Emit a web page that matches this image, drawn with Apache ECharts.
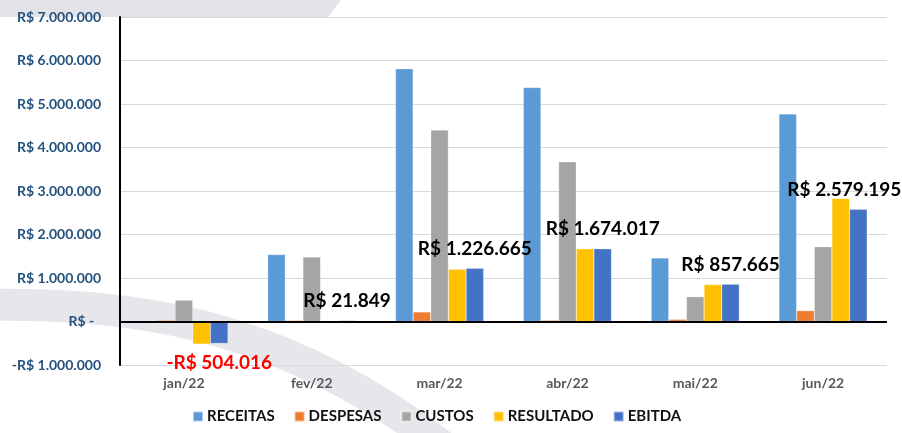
<!DOCTYPE html>
<html>
<head>
<meta charset="utf-8">
<script src="https://cdn.jsdelivr.net/npm/echarts@6/dist/echarts.min.js"></script>
<style>
  html, body { margin: 0; padding: 0; background: #fff; }
  #chart { width: 902px; height: 433px; }
</style>
</head>
<body>
<div id="chart"></div>
<script>
// meses
var meses = ['jan/22', 'fev/22', 'mar/22', 'abr/22', 'mai/22', 'jun/22'];
// valores (R$)
var receitas = [0, 1540000, 5810000, 5380000, 1460000, 4770000];
var despesas = [30000, 25000, 220000, 30000, 50000, 250000];
var custos = [490000, 1480000, 4400000, 3670000, 570000, 1720000];
var resultado = [-520000, 5000, 1200000, 1670000, 850000, 2830000];
var ebitda = [-504016, 21849, 1226665, 1674017, 857665, 2579195];
// eixo y
var yMin = -1000000, yMax = 7000000, yStep = 1000000;

var fonte = 'Lato, "Noto Sans", sans-serif';

// formato R$ 1.000.000
function moeda(v) {
	if (v === 0) return 'R$ -  ';
	var s = Math.abs(Math.round(v)).toString().replace(/\B(?=(\d{3})+(?!\d))/g, '.');
	return (v < 0 ? '-' : '') + 'R$ ' + s;
}

// rotulos do EBITDA
var ebitdaData = ebitda.map(function(v, i) {
	var neg = v < 0;
	return {
		value: v,
		label: {
			position: neg ? 'bottom' : 'top',
			color: neg ? '#ff0000' : '#000',
			offset: i === ebitda.length - 1 ? [-14, 0] : [0, 0]
		}
	};
});

var chart = echarts.init(document.getElementById('chart'));

var serie = function(nome, dados, cor) {
	return {
		name: nome,
		type: 'bar',
		data: dados,
		barGap: '0%',
		barCategoryGap: '31%',
		itemStyle: { color: cor, borderColor: 'rgba(255,255,255,0.5)', borderWidth: 0.5 }
	};
};

var lista = [
	serie('RECEITAS', receitas, '#5b9bd5'),
	serie('DESPESAS', despesas, '#ed7d31'),
	serie('CUSTOS', custos, '#a5a5a5'),
	serie('RESULTADO', resultado, '#ffc000'),
	serie('EBITDA', ebitdaData, '#4472c4')
];
// rotulos e linha do zero
lista[4].label = {
	show: true,
	distance: 10,
	fontFamily: fonte,
	fontWeight: 'bold',
	fontSize: 19,
	formatter: function(p) { return moeda(p.value); }
};
lista[4].markLine = {
	silent: true,
	symbol: 'none',
	label: { show: false },
	lineStyle: { color: '#000', width: 2, type: 'solid' },
	data: [{ yAxis: 0 }]
};

var option = {
	animation: false,
	backgroundColor: '#fff',
	textStyle: { fontFamily: fonte },
	graphic: [{
		type: 'polygon',
		z: -10,
		silent: true,
		shape: { points: [[0, 0], [341, 0], [328, 17], [0, 17]] },
		style: { fill: '#e3e3e7' }
	}, {
		type: 'bezierCurve',
		z: -10,
		silent: true,
		shape: { x1: -10, y1: 305, cpx1: 150, cpy1: 302, cpx2: 300, cpy2: 330, x2: 460, y2: 460 },
		style: { stroke: '#e7e7eb', lineWidth: 32, fill: null }
	}],
	legend: {
		bottom: 4,
		left: 187,
		itemWidth: 10,
		itemHeight: 10,
		itemGap: 19,
		icon: 'rect',
		textStyle: { fontFamily: fonte, fontWeight: 'bold', fontSize: 15, color: '#111', padding: [0, 0, 0, -1] },
		data: ['RECEITAS', 'DESPESAS', 'CUSTOS', 'RESULTADO', 'EBITDA']
	},
	grid: { left: 120, right: 15, top: 17, bottom: 68 },
	xAxis: {
		type: 'category',
		data: meses,
		axisLine: { show: false, onZero: false },
		axisTick: { show: false },
		axisLabel: { margin: 11, fontFamily: fonte, fontWeight: 'bold', fontSize: 14, color: '#595959' }
	},
	yAxis: {
		type: 'value',
		min: yMin,
		max: yMax,
		interval: yStep,
		axisLine: { show: true, lineStyle: { color: '#000', width: 2 } },
		axisTick: { show: false },
		axisLabel: {
			margin: 19,
			fontFamily: fonte,
			fontWeight: 'bold',
			fontSize: 14,
			color: '#24527f',
			formatter: moeda
		},
		splitLine: { lineStyle: { color: '#d9d9d9', width: 1 } }
	},
	series: lista
};
chart.setOption(option);
</script>
</body>
</html>
